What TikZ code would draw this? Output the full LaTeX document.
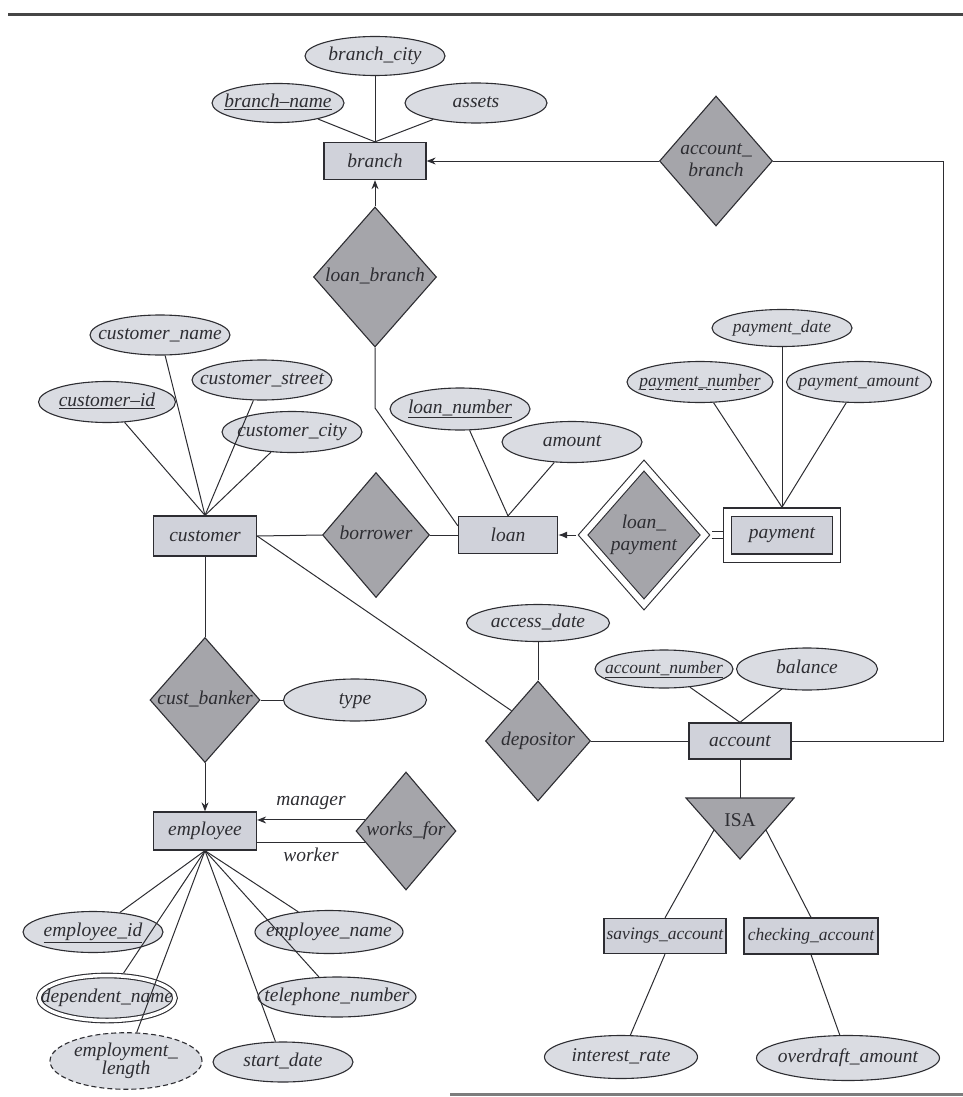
\documentclass[tikz,border=0pt]{standalone}
\usepackage{fontspec}
\setmainfont{Liberation Serif}
\usepackage{tikz}
\usetikzlibrary{shapes.geometric, arrows.meta, positioning, calc}
\definecolor{InkGray}{RGB}{45,45,50}
\definecolor{EntityFill}{RGB}{208,210,218}
\definecolor{AttrFill}{RGB}{218,220,226}
\definecolor{RelFill}{RGB}{165,165,170}
\definecolor{RuleGray}{RGB}{70,70,70}
\newcommand{\erlbl}[1]{\makebox[0pt]{\begin{tabular}{@{}c@{}}#1\end{tabular}}}
\newsavebox{\dulbox}
\newcommand{\dashund}[1]{\sbox{\dulbox}{#1}\leavevmode
  \rlap{\smash{\lower4pt\hbox to\wd\dulbox{\xleaders\hbox to 8pt{\hss\vrule width 5pt height 0.9pt\hss}\hfill}}}%
  \usebox{\dulbox}}

\begin{document}
\begin{tikzpicture}[x=1pt, y=-1pt, on grid,
  font=\fontsize{19.5}{22}\selectfont\itshape, text=InkGray,
  small/.style={font=\fontsize{17.5}{21}\selectfont\itshape},
  entity/.style={draw=InkGray, fill=EntityFill, line width=1.3pt,
                 inner sep=0pt, minimum height=37pt},
  attr/.style={ellipse, draw=InkGray, fill=AttrFill, line width=1.1pt,
               inner sep=0pt, minimum width=140pt, minimum height=40pt},
  rel/.style={diamond, draw=InkGray, fill=RelFill, line width=1.1pt,
              inner sep=0pt},
  link/.style={draw=InkGray, line width=1pt},
  arr/.style={link, -{Stealth[length=9pt, width=7pt]}},
]
\useasboundingbox (0,0) rectangle (963,1097);
\draw[RuleGray, line width=3pt] (8,15) -- (963,15);
\draw[RuleGray!70, line width=3pt] (450,1094) -- (963,1094);

\node[entity, minimum width=102pt] (branch) at (375,161) {branch};
\node[entity, minimum width=103pt, minimum height=40pt] (customer) at (205,536) {customer};
\node[entity, minimum width=99pt] (loan) at (508,535) {loan};
\node[entity, minimum width=109pt, minimum height=46pt, double=white,
      double distance=7pt, outer sep=4.8pt] (payment) at (782,535) {payment};
\node[entity, minimum width=102pt, minimum height=36pt] (account) at (740,741) {account};
\node[entity, minimum width=103pt, minimum height=38pt] (employee) at (205,831) {employee};
\node[entity, small, minimum width=122pt, minimum height=35pt] (savings) at (665,936) {savings\_account};
\node[entity, small, minimum width=134pt, minimum height=36pt] (checking) at (811,936) {checking\_account};

\node[rel, minimum width=113pt, minimum height=130pt] (accbr) at (716,161)
  {\erlbl{account\_\\branch}};
\node[rel, minimum width=123pt, minimum height=140pt] (loanbr) at (375,277)
  {\erlbl{loan\_branch}};
\node[rel, minimum width=107pt, minimum height=125pt] (borrower) at (376,535)
  {\erlbl{borrower}};
\node[rel, minimum width=126pt, minimum height=143pt, double=white,
      double distance=6pt, outer sep=5pt] (loanpay) at (644,535)
  {\erlbl{loan\_\\payment}};
\node[rel, minimum width=110pt, minimum height=125pt] (custbk) at (205,700)
  {\erlbl{cust\_banker}};
\node[rel, minimum width=100pt, minimum height=118pt] (worksfor) at (406,831)
  {\erlbl{works\_for}};
\node[rel, minimum width=105pt, minimum height=120pt] (depositor) at (538,741)
  {\erlbl{depositor}};

\filldraw[draw=InkGray, fill=RelFill, line width=1.1pt]
  (686,798) -- (794,798) -- (740,859) -- cycle;
\node[font=\fontsize{19.5}{22}\selectfont\upshape] (isa) at (740,820) {ISA};
\coordinate (isatop) at (740,798);
\coordinate (isaleft) at (714,830);
\coordinate (isaright) at (766,830);

\node[attr, minimum height=39pt, above=105pt of branch] (bcity) {\erlbl{branch\_city}};
\node[attr, minimum width=132pt, minimum height=39pt, above left=58pt and 97pt of branch]
  (bname) {\erlbl{\underline{branch--name}}};
\node[attr, minimum width=142pt, above right=58pt and 101pt of branch] (assets) {\erlbl{assets}};

\node[attr, above left=201pt and 45pt of customer] (cname) {\erlbl{customer\_name}};
\node[attr, above right=156pt and 57pt of customer] (cstreet) {\erlbl{customer\_street}};
\node[attr, minimum width=137pt, minimum height=41pt, above left=134pt and 98pt of customer]
  (cid) {\erlbl{\underline{customer--id}}};
\node[attr, minimum height=41pt, above right=104pt and 87pt of customer] (ccity) {\erlbl{customer\_city}};

\node[attr, minimum height=42pt, above left=126pt and 48pt of loan] (lnum) {\erlbl{\underline{loan\_number}}};
\node[attr, minimum height=41pt, above right=93pt and 64pt of loan] (amount) {\erlbl{amount}};

\node[attr, small, minimum height=37pt, above=207pt of payment] (pdate) {\erlbl{payment\_date}};
\node[attr, small, minimum width=146pt, minimum height=41pt, above left=153pt and 82pt of payment]
  (pnum) {\erlbl{\dashund{payment\_number}}};
\node[attr, small, minimum width=145pt, minimum height=41pt, above right=153pt and 77pt of payment]
  (pamt) {\erlbl{payment\_amount}};

\node[attr, minimum width=143pt, minimum height=37pt, above=118pt of depositor] (adate) {\erlbl{access\_date}};
\node[attr, small, minimum width=138pt, minimum height=38pt, above left=72pt and 76pt of account]
  (anum) {\erlbl{\underline{account\_number}}};
\node[attr, minimum width=141pt, minimum height=42pt, above right=72pt and 67pt of account]
  (bal) {\erlbl{balance}};

\node[attr, minimum width=143pt, minimum height=42pt, right=150pt of custbk] (type) {\erlbl{type}};

\node[attr, minimum height=41pt, below left=101pt and 112pt of employee] (eid) {\erlbl{\underline{employee\_id}}};
\node[attr, minimum width=148pt, minimum height=43pt, below right=101pt and 124pt of employee]
  (ename) {\erlbl{employee\_name}};
\node[attr, minimum width=136pt, minimum height=45pt, double=white, double distance=3.5pt,
      outer sep=3pt, below left=167pt and 98pt of employee] (dname) {\erlbl{dependent\_name}};
\node[attr, minimum width=158pt, below right=166pt and 132pt of employee] (tel) {\erlbl{telephone\_number}};
\node[attr, minimum width=152pt, minimum height=48pt, dash pattern=on 5pt off 3pt,
      below left=230pt and 79pt of employee] (elen) {\erlbl{employment\_\\[-4pt]length}};
\node[attr, below right=231pt and 78pt of employee] (sdate) {\erlbl{start\_date}};

\node[attr, minimum width=153pt, minimum height=43pt, below left=121pt and 44pt of savings]
  (irate) {\erlbl{interest\_rate}};
\node[attr, minimum width=183pt, minimum height=45pt, below right=122pt and 37pt of checking]
  (odraft) {\erlbl{overdraft\_amount}};

\draw[link] (bname) -- (branch.north);
\draw[link] (bcity) -- (branch.north);
\draw[link] (assets) -- (branch.north);
\draw[arr] (accbr.west) -- (branch.east);
\draw[arr] (loanbr.north) -- (branch.south);
\coordinate (accorner) at (943,161);
\draw[link] (accbr.east) -- (accorner) |- (account.east);

\draw[link] (cname) -- (customer.north);
\draw[link] (cstreet) -- (customer.north);
\draw[link] (cid) -- (customer.north);
\draw[link] (ccity) -- (customer.north);
\draw[link] (customer.east) -- (borrower.west);
\draw[link] (borrower.east) -- (loan.west);
\coordinate (lbknee) at (375,408);
\draw[link] (loanbr.south) -- (lbknee) -- ([yshift=-10pt]loan.north west);
\draw[link] (lnum) -- (loan.north);
\draw[link] (amount) -- (loan.north);
\draw[link, -{Latex[length=9pt, width=7pt]}] (loanpay.west) -- (loan.east);
\draw[link, double=white, double distance=5.5pt] (loanpay.east) -- (payment.west);
\draw[link] (pdate) -- (payment.north);
\draw[link] (pnum) -- (payment.north);
\draw[link] (pamt) -- (payment.north);

\draw[link] (customer.east) -- (depositor.north west);
\draw[link] (adate) -- (depositor.north);
\draw[link] (depositor.east) -- (account.west);
\draw[link] (anum) -- (account.north);
\draw[link] (bal) -- (account.north);
\draw[link] (account.south) -- (isatop);
\draw[link] (isaleft) -- (savings.north);
\draw[link] (isaright) -- (checking.north);
\draw[link] (savings.south) -- (irate);
\draw[link] (checking.south) -- (odraft);

\draw[link] (customer.south) -- (custbk.north);
\draw[link] (custbk.east) -- (type);
\draw[arr] (custbk.south) -- (employee.north);
\draw[arr] (worksfor.165) -- (employee.east |- worksfor.165)
  node[midway, anchor=south, inner sep=0pt, yshift=10pt] (mgrlbl) {manager};
\draw[link] (employee.east |- worksfor.195) -- (worksfor.195)
  node[midway, anchor=north, inner sep=0pt, yshift=-5pt] (wkrlbl) {worker};
\draw[link] (employee.south) -- (eid);
\draw[link] (employee.south) -- (ename);
\draw[link] (employee.south) -- (dname);
\draw[link] (employee.south) -- (tel);
\draw[link] (employee.south) -- (elen);
\draw[link] (employee.south) -- (sdate);
\end{tikzpicture}
\end{document}
